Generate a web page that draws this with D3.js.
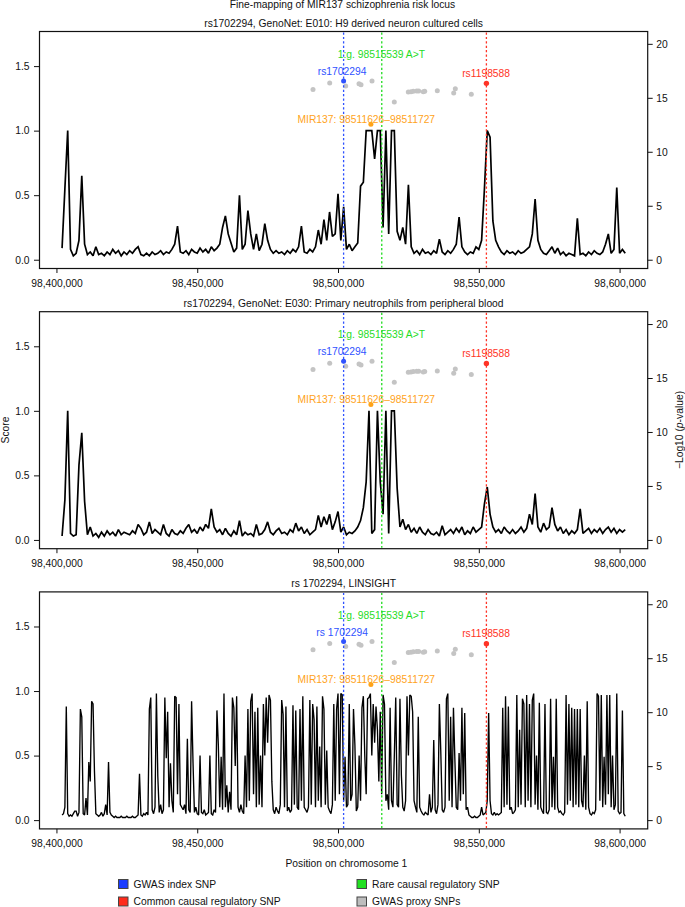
<!DOCTYPE html>
<html><head><meta charset="utf-8">
<script src="https://cdn.jsdelivr.net/npm/d3@7"></script>
<style>
body{margin:0;background:#fff}
text{font-family:"Liberation Sans",Arial,Helvetica,sans-serif}
</style>
</head><body>
<svg id="c" width="685" height="907"></svg>
<script>
// ---------------- data ----------------
const mainTitle = "Fine-mapping of MIR137 schizophrenia risk locus";
const panelTitles = [
  "rs1702294, GenoNet: E010: H9 derived neuron cultured cells",
  "rs1702294, GenoNet: E030: Primary neutrophils from peripheral blood",
  "rs 1702294, LINSIGHT"
];
const indexLabels = ["rs1702294", "rs1702294", "rs 1702294"];
const xTicks = [98400000, 98450000, 98500000, 98550000, 98600000];
const yLeftTicks = [0, 0.5, 1.0, 1.5];
const yRightTicks = [0, 5, 10, 15, 20];
const signalStart = 98402000;
const signalSteps = [1000, 1000, 500];

// GenoNet E010 score, 1 kb bins
const scoreE010 = [
0.09,0.55,1.0,0.08,0.03,0.05,0.15,0.65,0.12,0.04,0.06,0.03,0.1,0.04,0.05,0.03,0.06,0.04,0.08,0.05,
0.07,0.03,0.06,0.04,0.07,0.05,0.08,0.1,0.04,0.03,0.05,0.03,0.06,0.04,0.05,0.07,0.04,0.06,0.05,0.08,
0.12,0.26,0.06,0.05,0.07,0.04,0.08,0.06,0.05,0.09,0.06,0.08,0.05,0.1,0.07,0.09,0.12,0.25,0.34,0.2,
0.13,0.06,0.09,0.5,0.08,0.12,0.38,0.2,0.08,0.2,0.07,0.12,0.28,0.15,0.08,0.05,0.07,0.05,0.06,0.04,
0.07,0.05,0.08,0.06,0.1,0.26,0.06,0.05,0.08,0.06,0.1,0.23,0.12,0.31,0.15,0.37,0.18,0.2,0.51,0.15,
0.41,0.08,0.12,0.07,0.1,0.13,0.57,0.6,1.0,1.0,1.0,0.78,1.0,1.0,0.25,1.0,0.2,1.0,1.0,0.22,
0.15,0.25,0.12,0.58,0.1,0.05,0.07,0.04,0.08,0.05,0.06,0.04,0.07,0.05,0.16,0.06,0.04,0.07,0.05,0.08,
0.12,0.33,0.1,0.06,0.04,0.06,0.05,0.1,0.08,0.15,0.55,1.0,0.95,0.3,0.15,0.1,0.06,0.04,0.07,0.05,
0.06,0.04,0.07,0.05,0.06,0.08,0.1,0.2,0.47,0.15,0.08,0.05,0.04,0.07,0.1,0.05,0.09,0.04,0.06,0.03,
0.05,0.04,0.03,0.32,0.04,0.05,0.03,0.06,0.04,0.07,0.05,0.04,0.06,0.12,0.2,0.05,0.08,0.56,0.05,0.08,
0.05];

// GenoNet E030 score, 1 kb bins
const scoreE030 = [
0.03,0.31,1.0,0.05,0.03,0.04,0.58,0.83,0.3,0.04,0.1,0.03,0.05,0.02,0.06,0.03,0.07,0.04,0.06,0.03,
0.08,0.04,0.06,0.05,0.04,0.07,0.05,0.12,0.09,0.04,0.06,0.14,0.05,0.08,0.06,0.04,0.12,0.05,0.03,0.08,
0.05,0.04,0.07,0.05,0.09,0.12,0.06,0.08,0.05,0.1,0.07,0.12,0.09,0.24,0.1,0.06,0.08,0.04,0.09,0.05,
0.03,0.07,0.04,0.15,0.03,0.06,0.04,0.05,0.03,0.12,0.04,0.05,0.08,0.14,0.06,0.04,0.07,0.09,0.05,0.06,
0.04,0.08,0.06,0.13,0.07,0.1,0.05,0.08,0.04,0.06,0.08,0.19,0.1,0.18,0.12,0.2,0.08,0.14,0.22,0.06,
0.1,0.04,0.06,0.05,0.07,0.1,0.15,0.25,0.45,1.0,0.05,0.08,1.0,0.45,0.2,1.0,0.05,1.0,1.0,0.4,
0.1,0.16,0.08,0.12,0.06,0.09,0.05,0.1,0.06,0.04,0.08,0.05,0.04,0.06,0.03,0.11,0.04,0.06,0.08,0.05,
0.09,0.06,0.1,0.04,0.07,0.05,0.1,0.06,0.08,0.1,0.28,0.41,0.2,0.1,0.06,0.08,0.05,0.1,0.07,0.05,
0.08,0.05,0.07,0.1,0.06,0.09,0.2,0.12,0.36,0.1,0.06,0.13,0.08,0.1,0.25,0.12,0.07,0.1,0.05,0.08,
0.04,0.07,0.05,0.08,0.24,0.05,0.07,0.09,0.05,0.08,0.06,0.09,0.05,0.08,0.1,0.06,0.09,0.05,0.08,0.06,
0.08];

// LINSIGHT score, 0.5 kb bins
const scoreLinsight = [
0.04,0.05,0.1,0.88,0.05,0.03,0.04,0.03,0.05,0.07,0.07,0.03,0.06,0.86,0.8,0.05,0.04,0.17,0.04,0.45,
0.3,0.92,0.9,0.38,0.05,0.04,0.03,0.04,0.06,0.03,0.05,0.12,0.04,0.45,0.06,0.04,0.03,0.02,0.03,0.02,
0.02,0.02,0.03,0.02,0.02,0.02,0.03,0.02,0.02,0.02,0.03,0.02,0.02,0.03,0.04,0.36,0.04,0.03,0.05,0.04,
0.06,0.04,0.86,0.95,0.08,0.05,0.1,0.98,0.34,0.06,0.12,0.05,0.08,0.95,0.48,0.84,0.1,0.44,0.15,0.06,
0.96,0.95,0.2,0.9,0.12,0.1,0.08,0.12,0.05,0.63,0.08,0.06,0.92,0.45,0.06,0.1,0.05,0.04,0.5,0.06,
0.05,0.08,0.04,0.05,0.06,0.5,0.05,0.04,0.08,0.06,0.85,0.58,0.1,0.49,0.08,0.98,0.1,0.27,0.06,0.22,
0.08,0.95,0.87,0.42,0.96,0.1,0.06,0.12,0.07,0.05,0.5,0.1,0.86,0.15,0.92,0.98,0.2,0.84,0.1,0.87,
0.12,0.5,0.1,0.9,0.5,0.95,0.6,0.97,0.93,0.3,0.08,0.05,0.1,0.07,0.05,0.12,0.93,0.82,0.1,0.88,
0.07,0.1,0.06,0.08,0.89,0.12,0.85,0.1,0.08,0.86,0.15,0.96,0.1,0.08,0.06,0.1,0.93,0.12,0.9,0.78,
0.1,0.88,0.15,0.57,0.1,0.96,0.86,0.12,0.54,0.1,0.07,0.05,0.12,0.9,0.15,0.86,0.98,0.2,0.98,0.97,
0.15,0.49,0.1,0.12,0.9,0.15,0.2,0.86,0.58,0.07,0.1,0.5,0.15,0.87,0.96,0.5,0.2,0.94,0.95,0.98,
0.5,0.9,0.6,0.88,0.7,0.3,0.84,0.2,0.97,0.9,0.15,0.2,0.08,0.87,0.15,0.1,0.5,0.95,0.12,0.1,
0.94,0.35,0.1,0.07,0.15,0.96,0.5,0.97,0.96,0.84,0.15,0.1,0.06,0.8,0.1,0.07,0.05,0.04,0.06,0.05,
0.04,0.2,0.06,0.1,0.62,0.08,0.05,0.12,0.9,0.53,0.08,0.06,0.1,0.94,0.98,0.15,0.8,0.1,0.87,0.47,
0.1,0.08,0.52,0.15,0.87,0.2,0.83,0.08,0.1,0.04,0.03,0.02,0.02,0.03,0.02,0.02,0.03,0.04,0.1,0.04,
0.05,0.06,0.15,0.83,0.15,0.05,0.04,0.06,0.04,0.05,0.04,0.05,0.06,0.87,0.1,0.96,0.12,0.88,0.08,0.1,
0.05,0.06,0.08,0.97,0.1,0.7,0.12,0.94,0.9,0.1,0.97,0.15,0.9,0.1,0.93,0.98,0.12,0.5,0.08,0.91,
0.1,0.07,0.05,0.9,0.06,0.05,0.08,0.94,0.1,0.49,0.08,0.94,0.1,0.06,0.07,0.05,0.04,0.06,0.97,0.12,
0.9,0.15,0.87,0.1,0.86,0.12,0.86,0.1,0.86,0.15,0.1,0.5,0.08,0.92,0.1,0.05,0.04,0.06,0.05,0.08,
0.98,0.96,0.15,0.97,0.1,0.49,0.12,0.97,0.2,0.97,0.1,0.5,0.08,0.12,0.98,0.07,0.05,0.06,0.85,0.05,
0.03];

// SNPs (position, -log10 p)
const proxyPos = [98491118,98497049,98502731,98507455,98508165,98512072,98519992,98524964,98525923,
  98526740,98527947,98528658,98530291,98530789,98535264,98541088,98541656,98547339];
const proxyLogP = [15.78,16.37,16.09,16.30,16.21,16.55,14.61,15.53,15.56,
  15.60,15.63,15.63,15.56,15.60,15.66,15.44,15.84,15.32];
const indexSnp = {pos: 98501984, logp: 16.55};
const commonSnp = {pos: 98552700, logp: 16.34, label: "rs1198588"};
const rareSnp = {pos: 98515539, logp: 19.0, label: "1:g. 98515539 A>T"};
const mir137 = {start: 98511626, end: 98511727, score: 1.05, label: "MIR137: 98511626\u201398511727"};

const legendItems = [
  {label: "GWAS index SNP", color: "#1a3cff"},
  {label: "Common causal regulatory SNP", color: "#ff2a1a"},
  {label: "Rare causal regulatory SNP", color: "#22e022"},
  {label: "GWAS proxy SNPs", color: "#bdbdbd"}
];

// ---------------- drawing ----------------
const COL = {blue: "#2f52ff", red: "#ff3326", green: "#1fdc1f", orange: "#ffa31a", gray: "#c4c4c4"};
const FS = 10.3;
const svg = d3.select("#c");
svg.append("rect").attr("width", 685).attr("height", 907).attr("fill", "#fff");

const L = 39.5, R = 647.7, H = 237;
const panelTops = [31.5, 311.7, 591.9];
const signals = [scoreE010, scoreE030, scoreLinsight];
const signalWidths = [1.7, 1.7, 1.35];

const x = d3.scaleLinear().domain([98393984, 98609984]).range([L, R]);
const yL = d3.scaleLinear().domain([-0.068, 1.768]).range([H, 0]);
const rMax = 20.33;
const yR = d3.scaleLinear().domain([-0.04 * rMax, 1.04 * rMax]).range([H, 0]);

svg.append("text").attr("x", 342.5).attr("y", 8.4).attr("text-anchor", "middle")
  .attr("font-size", FS).attr("fill", "#111").text(mainTitle);

panelTops.forEach((top, p) => {
  const g = svg.append("g").attr("transform", `translate(0,${top})`);
  g.append("text").attr("x", 343.6).attr("y", -5).attr("text-anchor", "middle")
    .attr("font-size", FS).attr("fill", "#111").text(panelTitles[p]);

  // axes
  const ax = g.append("g").attr("transform", `translate(0,${H})`)
    .call(d3.axisBottom(x).tickValues(xTicks).tickFormat(d3.format(",")).tickSize(4.5).tickPadding(6.7));
  const ayl = g.append("g").attr("transform", `translate(${L},0)`)
    .call(d3.axisLeft(yL).tickValues(yLeftTicks).tickFormat(d3.format(".1f")).tickSize(5.5).tickPadding(4.5));
  const ayr = g.append("g").attr("transform", `translate(${R},0)`)
    .call(d3.axisRight(yR).tickValues(yRightTicks).tickFormat(d3.format("d")).tickSize(5).tickPadding(3.5));
  [ax, ayl, ayr].forEach(a => {
    a.select(".domain").remove();
    a.selectAll("text").attr("font-size", FS).attr("font-family", "Liberation Sans, Arial, sans-serif").attr("fill", "#111");
    a.selectAll("line").attr("stroke", "#111").attr("stroke-width", 1);
  });

  // signal
  const step = signalSteps[p];
  const line = d3.line().x((d, k) => x(signalStart + k * step)).y(d => yL(d));
  g.append("path").datum(signals[p]).attr("d", line)
    .attr("fill", "none").attr("stroke", "#000").attr("stroke-width", signalWidths[p])
    .attr("stroke-linejoin", "miter").attr("stroke-miterlimit", 2);

  // proxy SNPs
  g.selectAll(".proxy").data(proxyPos).join("circle")
    .attr("cx", d => x(d)).attr("cy", (d, k) => yR(proxyLogP[k])).attr("r", 2.5).attr("fill", COL.gray);

  // vertical dashed lines
  const vline = (pos, col) => g.append("line").attr("x1", x(pos)).attr("x2", x(pos)).attr("y1", 1).attr("y2", H - 1)
    .attr("stroke", col).attr("stroke-width", 1.3).attr("stroke-dasharray", "2.2,2.2");
  vline(indexSnp.pos, COL.blue);
  vline(rareSnp.pos, COL.green);
  vline(commonSnp.pos, COL.red);

  // points
  g.append("circle").attr("cx", x(indexSnp.pos)).attr("cy", yR(indexSnp.logp)).attr("r", 2.5).attr("fill", COL.blue);
  g.append("circle").attr("cx", x(commonSnp.pos)).attr("cy", yR(commonSnp.logp)).attr("r", 2.7).attr("fill", COL.red);
  const mirMid = (mir137.start + mir137.end) / 2;
  g.append("circle").attr("cx", x(mirMid)).attr("cy", yL(mir137.score)).attr("r", 2.5).attr("fill", COL.orange);

  // labels
  const lab = (xx, yy, txt, col) => g.append("text").attr("x", xx).attr("y", yy).attr("text-anchor", "middle")
    .attr("font-size", FS).attr("fill", col).text(txt);
  lab(x(rareSnp.pos) - 0.4, yR(rareSnp.logp) + 3.6, rareSnp.label, COL.green);
  lab(x(indexSnp.pos) - 1.5, yR(indexSnp.logp) - 5.8, indexLabels[p], COL.blue);
  lab(x(commonSnp.pos) - 0.3, yR(commonSnp.logp) - 6.3, commonSnp.label, COL.red);
  lab(x(mirMid) - 4.6, yL(mir137.score) - 1.5, mir137.label, COL.orange);

  // frame
  g.append("rect").attr("x", L).attr("y", 0).attr("width", R - L).attr("height", H)
    .attr("fill", "none").attr("stroke", "#111").attr("stroke-width", 1.2);
});

// axis titles
svg.append("text").attr("transform", "translate(8.6,430) rotate(-90)").attr("text-anchor", "middle")
  .attr("font-size", FS).attr("fill", "#111").text("Score");
const rt = svg.append("text").attr("transform", "translate(683.4,430) rotate(-90)").attr("text-anchor", "middle")
  .attr("font-size", FS).attr("fill", "#111");
rt.append("tspan").text("\u2212Log10 (");
rt.append("tspan").attr("font-style", "italic").text("p");
rt.append("tspan").text("-value)");

svg.append("text").attr("x", 346.4).attr("y", 867).attr("text-anchor", "middle")
  .attr("font-size", FS).attr("fill", "#111").text("Position on chromosome 1");

// legend
const legX = [118.5, 118.5, 357, 357];
const legY = [884, 901.5, 884, 901.5];
const lg = svg.append("g");
legendItems.forEach((it, k) => {
  lg.append("rect").attr("x", legX[k]).attr("y", legY[k] - 4.5).attr("width", 9.5).attr("height", 9)
    .attr("fill", it.color).attr("stroke", "#444").attr("stroke-width", 1);
  lg.append("text").attr("x", legX[k] + 15).attr("y", legY[k] + 3.6).attr("font-size", FS)
    .attr("fill", "#111").text(it.label);
});
</script>
</body></html>
